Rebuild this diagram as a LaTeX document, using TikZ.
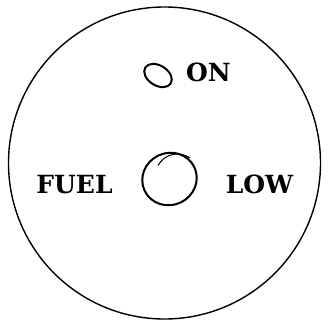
\documentclass[tikz,border=0pt]{standalone}
\usepackage{fontspec}
\newfontfamily\lblfont{DejaVu Serif}
\begin{document}
\begin{tikzpicture}[x=1pt,y=-1pt,
  lbl/.style={font=\lblfont\bfseries\fontsize{25}{25}\selectfont, inner sep=0pt, anchor=base},
  lamp/.style={line width=2pt}]
\useasboundingbox (0,0) rectangle (329,324);
\draw[line width=1.4pt] (164.5,163) circle (156);
\draw[lamp] (158,75.5) ellipse[x radius=15, y radius=10, rotate=-32];
\draw[lamp] (169.5,179) ellipse[x radius=27.5, y radius=26, rotate=25];
\draw[line width=1pt] (158,165.5) .. controls (165,153) and (180,151) .. (190,158);
\node[lbl] (on) at (208.5,81.5) {ON};
\node[lbl] (fuel) at (74.5,193) {FUEL};
\node[lbl] (low) at (259.5,193) {LOW};
\end{tikzpicture}
\end{document}
